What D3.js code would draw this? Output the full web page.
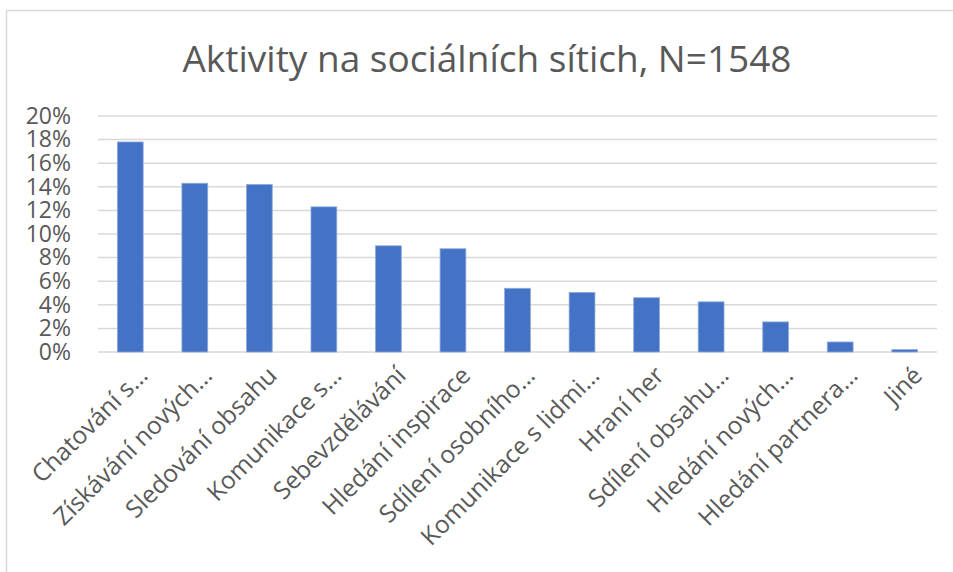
<!DOCTYPE html>
<html>
<head>
<meta charset="utf-8">
<script src="https://cdn.jsdelivr.net/npm/d3@7"></script>
<style>
  body { margin: 0; background: #fff; }
  svg { display: block; font-family: "Open Sans", sans-serif; }
</style>
</head>
<body>
<svg id="chart"></svg>
<script>
// Chart data
const categories = [
    'Chatování s…', 'Získávání nových…', 'Sledování obsahu', 'Komunikace s…',
    'Sebevzdělávání', 'Hledání inspirace', 'Sdílení osobního…', 'Komunikace s lidmi…',
    'Hraní her', 'Sdílení obsahu…', 'Hledání nových…', 'Hledání partnera…', 'Jiné'
];
const shares = [17.8, 14.3, 14.2, 12.3, 9.0, 8.75, 5.4, 5.05, 4.6, 4.25, 2.55, 0.85, 0.2];
const yTicks = [0, 2, 4, 6, 8, 10, 12, 14, 16, 18, 20];
const chartTitle = 'Aktivity na sociálních sítich, N=1548';

const width = 953;
const height = 572;
const margin = { top: 116, right: 16, bottom: 220, left: 98 };

const svg = d3.select('#chart')
    .attr('width', width)
    .attr('height', height);

// Outer chart frame (runs off the right/bottom edge like the original)
svg.append('rect')
    .attr('x', 6.5)
    .attr('y', 10.5)
    .attr('width', width + 10)
    .attr('height', height + 10)
    .attr('fill', '#fff')
    .attr('stroke', '#d9d9d9')
    .attr('stroke-width', 1.5);

const x = d3.scaleBand()
    .domain(categories)
    .range([margin.left, width - margin.right])
    .paddingInner(0.6)
    .paddingOuter(0.3);

const y = d3.scaleLinear()
    .domain([0, 20])
    .range([height - margin.bottom, margin.top]);

// Gridlines
svg.append('g')
    .selectAll('line')
    .data(yTicks)
    .enter().append('line')
    .attr('x1', margin.left)
    .attr('x2', width - margin.right)
    .attr('y1', d => y(d))
    .attr('y2', d => y(d))
    .attr('stroke', '#d9d9d9')
    .attr('stroke-width', 1.5);

// Y axis labels
const yAxis = svg.append('g')
    .attr('transform', `translate(${margin.left - 27},0)`)
    .call(d3.axisLeft(y).tickValues(yTicks).tickFormat(d => d + '%').tickSize(0).tickPadding(0));
yAxis.select('.domain').remove();
yAxis.selectAll('text')
    .attr('fill', '#595959')
    .attr('font-size', 23)
    .attr('font-family', '"Open Sans", sans-serif');

// Bars
svg.append('g')
    .selectAll('rect')
    .data(shares)
    .enter().append('rect')
    .attr('x', (d, i) => x(categories[i]))
    .attr('y', d => y(d))
    .attr('width', x.bandwidth())
    .attr('height', d => y(0) - y(d))
    .attr('fill', '#4472c4')
    .attr('stroke', '#8fabdd')
    .attr('stroke-width', 0.8);

// X axis labels, rotated
const xAxis = svg.append('g')
    .attr('transform', `translate(0,${y(0)})`)
    .call(d3.axisBottom(x).tickSize(0).tickPadding(0));
xAxis.select('.domain').remove();
xAxis.selectAll('text')
    .attr('fill', '#595959')
    .attr('font-size', 24.5)
    .attr('font-family', '"Open Sans", sans-serif')
    .attr('text-anchor', 'end')
    .attr('dy', null)
    .attr('y', 0)
    .attr('transform', 'translate(19,25) rotate(-45)');

// Title
svg.append('text')
    .attr('x', 487)
    .attr('y', 72)
    .attr('text-anchor', 'middle')
    .attr('fill', '#595959')
    .attr('font-size', 37)
    .attr('font-family', '"Open Sans", sans-serif')
    .text(chartTitle);
</script>
</body>
</html>
